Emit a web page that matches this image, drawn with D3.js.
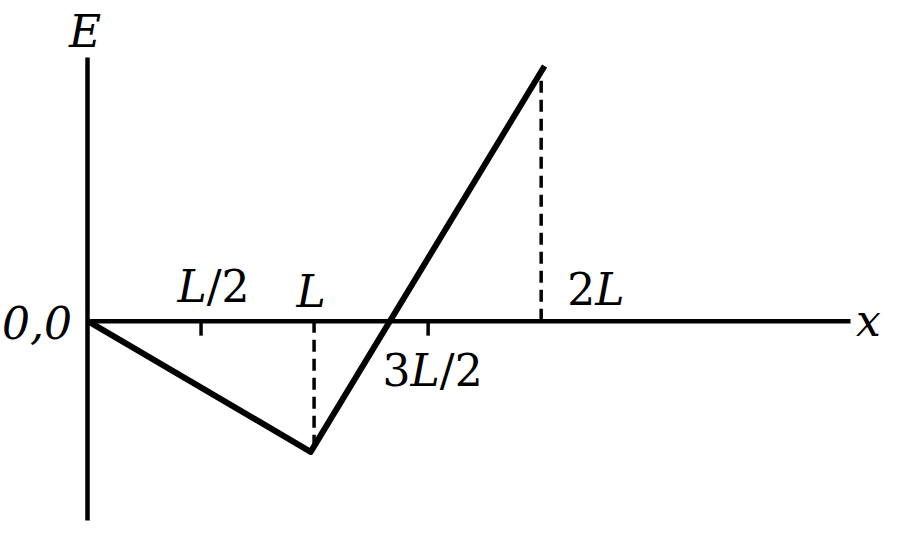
<!DOCTYPE html>
<html><head><meta charset="utf-8">
<script src="https://cdn.jsdelivr.net/npm/d3@7"></script>
<style>
html,body{margin:0;padding:0;background:#fff;}
text{font-family:"DejaVu Serif","Liberation Serif",serif;fill:#000;}
</style></head>
<body><svg id="c" width="900" height="533"></svg>
<script>
// data (x in units of L, E in arbitrary units)
const xPts = [0, 0.985, 2.015];
const ePts = [0, -1.02, 1.98];
const tickVals = [0.5, 1.5];
const tickLabels = [
  {v:0.5, parts:[["L","i"],["/",""],["2",""]], pos:"above"},
  {v:1,   parts:[["L","i"]], pos:"above"},
  {v:1.5, parts:[["3",""],["L","i"],["/",""],["2",""]], pos:"below"},
  {v:2,   parts:[["2",""],["L","i"]], pos:"aboveRight"}
];
const dropLines = [1, 2];

const svg = d3.select("#c");
const x = d3.scaleLinear().domain([0, 3.36]).range([87, 850]);
const y = d3.scaleLinear().domain([-1.55, 2.05]).range([520, 57]);

// x axis
const xAxis = d3.axisBottom(x).tickValues(tickVals).tickSizeInner(15).tickSizeOuter(0).tickFormat("");
const gx = svg.append("g").attr("transform", `translate(0,${y(0)})`).call(xAxis);
gx.select(".domain").attr("stroke","#000").attr("stroke-width",4.5);
gx.selectAll(".tick line").attr("stroke","#000").attr("stroke-width",3.5);

// y axis
const yAxis = d3.axisLeft(y).tickValues([]).tickSizeOuter(0);
const gy = svg.append("g").attr("transform", `translate(${x(0)},0)`).call(yAxis);
gy.select(".domain").attr("stroke","#000").attr("stroke-width",4.5);

// dashed drop lines
const pts = xPts.map((v,i)=>({x:v, e:ePts[i]}));
svg.selectAll("line.drop").data(dropLines).enter().append("line")
  .attr("class","drop")
  .attr("x1", d=>x(d)).attr("x2", d=>x(d))
  .attr("y1", y(0))
  .attr("y2", (d,i)=>y(ePts[i+1]) + (ePts[i+1]>0?8:0))
  .attr("stroke","#000").attr("stroke-width",3.5).attr("stroke-dasharray","12,7");

// main line
const line = d3.line().x(d=>x(d.x)).y(d=>y(d.e));
svg.append("path").datum(pts).attr("d", line)
  .attr("fill","none").attr("stroke","#000").attr("stroke-width",6)
  .attr("stroke-linejoin","round");

// labels
function addLabel(parts, px, py, anchor){
  const t = svg.append("text").attr("x",px).attr("y",py).attr("text-anchor",anchor||"middle").attr("font-size",44);
  parts.forEach(p=>{
    t.append("tspan").attr("font-style", p[1]==="i"?"italic":"normal").text(p[0]);
  });
  return t;
}
tickLabels.forEach(l=>{
  if(l.pos==="above") addLabel(l.parts, x(l.v)+ (l.v===0.5?13:-3), y(0)-(l.v===0.5?19:14), "middle");
  else if(l.pos==="below") addLabel(l.parts, x(l.v)+5, y(0)+65, "middle");
  else addLabel(l.parts, x(l.v)+26, y(0)-16, "start");
});
addLabel([["0,0","i"]], 2, y(0)+18, "start");
addLabel([["E","i"]], x(0)-2, 47, "middle");
addLabel([["x","i"]], 856, y(0)+15, "start");
</script>
</body></html>
